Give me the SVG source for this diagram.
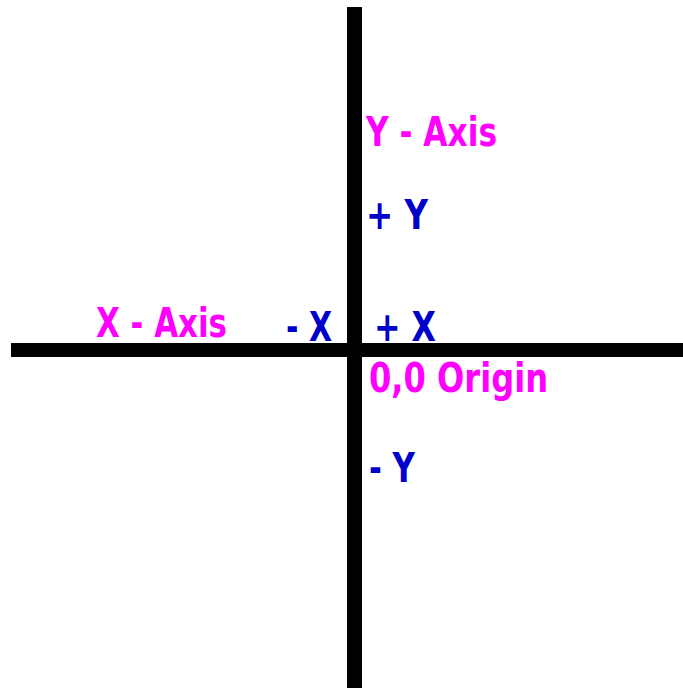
<svg xmlns="http://www.w3.org/2000/svg" width="683" height="688" viewBox="0 0 683 688">
<style>
text{font-family:"DejaVu Sans","Liberation Sans",sans-serif;font-weight:bold;font-size:40px}
.m{fill:#FF00FF}
.b{fill:#0000CC}
</style>
<rect width="683" height="688" fill="#fff"/>
<g id="axes">
<rect id="y-axis" x="347" y="7" width="15" height="681" fill="#000"/>
<rect id="x-axis" x="11" y="343" width="672" height="14" fill="#000"/>
</g>
<g id="labels">
<text class="m" x="366" y="146" textLength="131" lengthAdjust="spacingAndGlyphs">Y - Axis</text>
<text class="b" x="366" y="229" textLength="62" lengthAdjust="spacingAndGlyphs">+ Y</text>
<text class="m" x="96" y="337" textLength="131" lengthAdjust="spacingAndGlyphs">X - Axis</text>
<text class="b" x="286" y="341" textLength="46" lengthAdjust="spacingAndGlyphs">- X</text>
<text class="b" x="374" y="341" textLength="62" lengthAdjust="spacingAndGlyphs">+ X</text>
<text class="m" x="369" y="392" textLength="179" lengthAdjust="spacingAndGlyphs">0,0 Origin</text>
<text class="b" x="369" y="482" textLength="46" lengthAdjust="spacingAndGlyphs">- Y</text>
</g>
</svg>
